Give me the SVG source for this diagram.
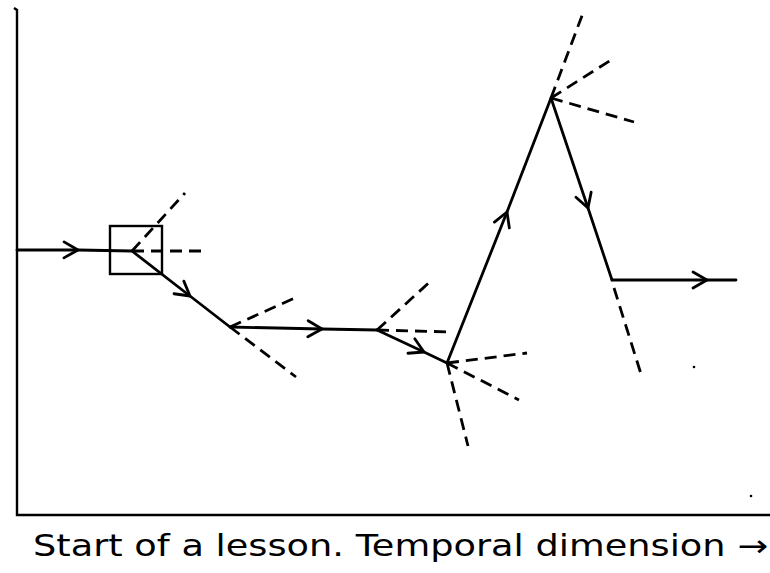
<svg xmlns="http://www.w3.org/2000/svg" width="770" height="573" viewBox="0 0 770 573">
<style>
.solid{fill:none;stroke:#000;stroke-width:2.8;stroke-linecap:round;stroke-linejoin:round}
.dash{fill:none;stroke:#000;stroke-width:2.8;stroke-dasharray:12 7}
.axis{fill:none;stroke:#000;stroke-width:2.4}
.lbl{font-family:"DejaVu Sans","Liberation Sans",sans-serif;font-size:30px;fill:#000}
</style>
<defs>
<marker id="chev" viewBox="-16 -10 18 20" markerWidth="18" markerHeight="20" refX="0" refY="0" orient="auto" markerUnits="userSpaceOnUse">
<path d="M-14,-8 L0,0 L-14,8" fill="none" stroke="#000" stroke-width="2.8" stroke-linecap="round" stroke-linejoin="round"/>
</marker>
</defs>
<rect width="770" height="573" fill="#fff"/>
<g id="axes">
<path class="axis" d="M14,8 L17,10 L17,515 L770,515"/>
</g>
<g id="box-node">
<rect x="110" y="226" width="52" height="48" fill="none" stroke="#000" stroke-width="2.4"/>
</g>
<g id="connectors">
<path class="solid" d="M17,250 L78,250 L132,251" marker-mid="url(#chev)"/>
<path class="solid" d="M132,251 L190,296 L230,327" marker-mid="url(#chev)"/>
<path class="solid" d="M230,327 L322,329 L377,330" marker-mid="url(#chev)"/>
<path class="solid" d="M377,330 L424,352 L447,363" marker-mid="url(#chev)"/>
<path class="solid" d="M447,363 L507,212 L551,98" marker-mid="url(#chev)"/>
<path class="solid" d="M551,98 L588,208 L612,280" marker-mid="url(#chev)"/>
<path class="solid" d="M612,280 L707,280 L736,280" marker-mid="url(#chev)"/>
</g>
<g id="dashed-options">
<path class="dash" d="M132,251 L185,193"/>
<path class="dash" d="M132,251 L205,251"/>
<path class="dash" d="M230,327 L297,297"/>
<path class="dash" d="M230,327 L296,377"/>
<path class="dash" d="M377,330 L433,279"/>
<path class="dash" d="M377,330 L452,332"/>
<path class="dash" d="M447,363 L527,353"/>
<path class="dash" d="M447,363 L519,400"/>
<path class="dash" d="M447,363 L468,446"/>
<path class="dash" d="M551,98 L583,13"/>
<path class="dash" d="M551,98 L611,60"/>
<path class="dash" d="M551,98 L634,122"/>
<path class="dash" d="M614,288 L641,374"/>
</g>
<g id="specks">
<circle cx="694" cy="367" r="1.3" fill="#000"/>
<circle cx="751" cy="496" r="1.3" fill="#000"/>
</g>
<g id="caption">
<text class="lbl" x="33" y="556" textLength="735" lengthAdjust="spacingAndGlyphs">Start of a lesson. Temporal dimension →</text>
</g>
</svg>
